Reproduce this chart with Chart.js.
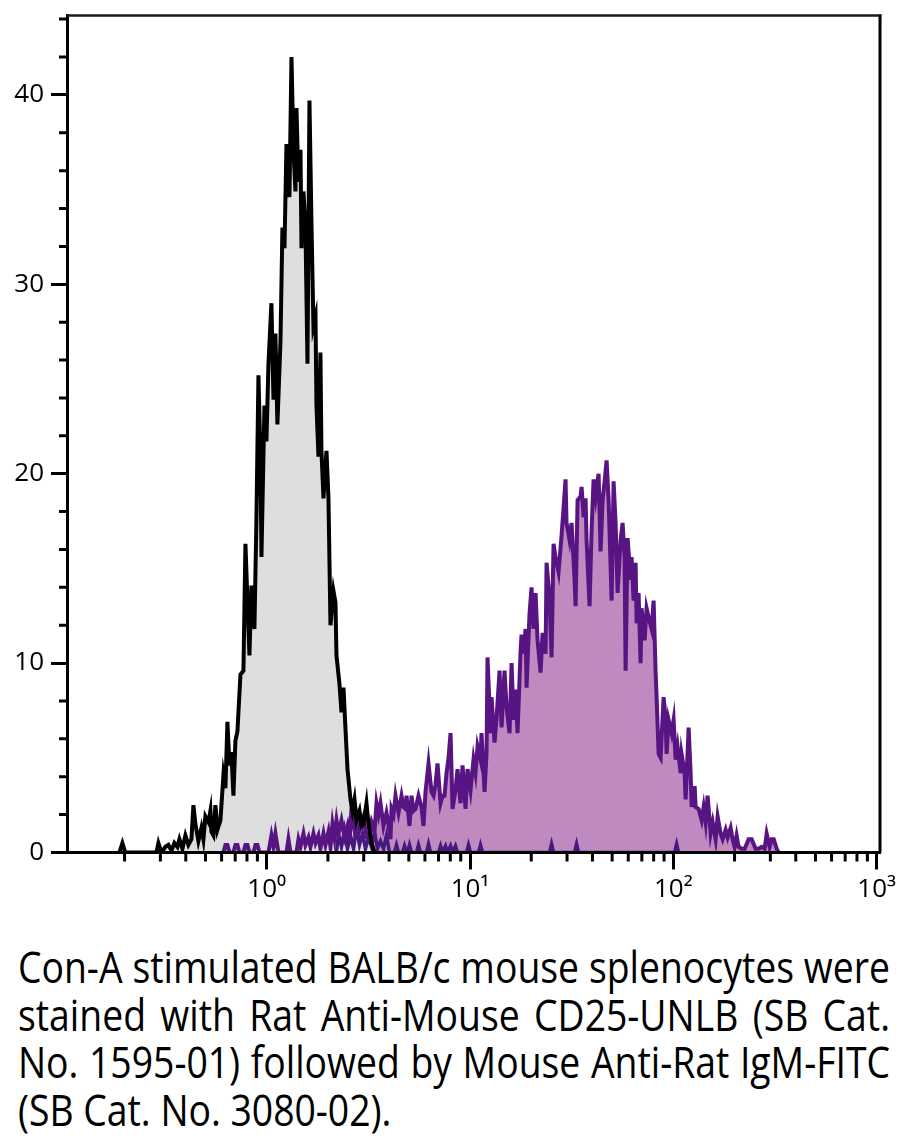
<!DOCTYPE html>
<html><head><meta charset="utf-8">
<script src="https://cdn.jsdelivr.net/npm/chart.js@4.4.0/dist/chart.umd.min.js"></script>
<style>
html,body{margin:0;padding:0;background:#fff;width:912px;height:1141px;overflow:hidden}
#wrap{position:absolute;left:0;top:0;width:912px;height:930px}
#cap{position:absolute;left:18px;top:943px;width:3000px;font-family:"Open Sans","Noto Sans",sans-serif;font-size:44px;line-height:47.5px;color:#000;transform-origin:0 0}
#cap .ln{white-space:nowrap;text-align:left}
#cap.fit .ln{white-space:normal;text-align:justify;text-align-last:justify}
#cap.fit .ln.last{text-align:left;text-align-last:left}
</style></head><body>
<div id="wrap"><canvas id="c" width="912" height="930"></canvas></div>
<div id="cap">
<div class="ln"><span>Con-A stimulated BALB/c mouse splenocytes were</span></div>
<div class="ln"><span>stained with Rat Anti-Mouse CD25-UNLB (SB Cat.</span></div>
<div class="ln"><span>No. 1595-01) followed by Mouse Anti-Rat IgM-FITC</span></div>
<div class="ln last"><span>(SB Cat. No. 3080-02).</span></div>
</div>
<script>
// ---- axis ticks ----
const xMajorTicks = [1, 10, 100, 1000];
const xMajorLabels = ['10\u2070', '10\u00B9', '10\u00B2', '10\u00B3'];
const xMinorTicks = [0.2,0.3,0.4,0.5,0.6,0.7,0.8,0.9, 2,3,4,5,6,7,8,9, 20,30,40,50,60,70,80,90, 200,300,400,500,600,700,800,900];
const yTicks = [0,2,4,6,8,10,12,14,16,18,20,22,24,26,28,30,32,34,36,38,40,42,44];
const yLabeledTicks = [0,10,20,30,40];

// ---- control histogram (black, grey fill) ----
const blackX = [0.1886,0.1951,0.2018,0.2869,0.2934,0.3035,0.3176,0.3285,0.3400,0.3517,0.3638,0.3722,0.3850,0.3983,0.4121,0.4264,0.4361,0.4462,0.4614,0.4775,0.4884,0.4996,0.5169,0.5287,0.5347,0.5470,0.5595,0.5724,0.5922,0.6127,0.6267,0.6411,0.6558,0.6708,0.6861,0.7018,0.7180,0.7428,0.7685,0.7860,0.8040,0.8225,0.8414,0.8703,0.8903,0.9108,0.9316,0.9423,0.9748,0.9972,1.020,1.055,1.080,1.104,1.129,1.169,1.195,1.223,1.251,1.294,1.324,1.354,1.385,1.401,1.433,1.466,1.483,1.516,1.551,1.587,1.623,1.660,1.698,1.738,1.757,1.797,1.838,1.859,1.902,1.968,2.013,2.059,2.130,2.179,2.204,2.280,2.332,2.386,2.441,2.497,2.583,2.642,2.703,2.765,2.860,2.926,2.992,3.096,3.167,3.277,3.390];
const blackY = [0,0.5,0,0,0.5,0,0.3,0.4,0.1,0.5,0.3,0.7,0.2,0.9,0.4,0.7,2.5,1.5,0.6,1.3,0.7,1.9,1.6,2.2,1.1,0.9,2.5,1.2,1.7,4.1,3.4,6.9,4.6,5.3,3.0,5.9,6.4,9.4,9.6,16.3,13.3,10.4,14.1,11.8,17.6,25.2,20.9,15.6,23.6,21.7,25.8,29.0,23.9,27.4,22.6,27.0,33.0,31.9,37.4,34.6,42.0,37.1,34.9,39.3,35.4,37.1,31.9,34.9,33.0,25.8,39.7,33.3,27.8,28.3,23.6,20.9,26.4,21.2,18.7,21.2,18.7,12.0,13.8,13.2,10.4,8.9,7.4,8.7,6.5,4.4,2.8,2.2,2.8,1.7,2.2,1.4,1.5,2.6,1.5,0.5,0];

// ---- stained histogram (purple) ----
const purpleX = [0.6127,0.6267,0.6411,0.6558,0.6861,0.7018,0.7180,0.7344,0.7685,0.7860,0.8040,0.8225,0.8605,0.8802,0.9004,0.9211,1.020,1.055,1.080,1.104,1.142,1.251,1.279,1.309,1.401,1.433,1.466,1.516,1.551,1.605,1.642,1.698,1.738,1.797,1.838,1.902,1.946,2.013,2.059,2.106,2.154,2.204,2.254,2.332,2.413,2.497,2.554,2.612,2.703,2.765,2.828,2.926,2.992,3.096,3.167,3.277,3.390,3.467,3.547,3.628,3.753,3.883,3.972,4.063,4.110,4.204,4.301,4.449,4.603,4.709,4.817,4.872,5.039,5.155,5.272,5.393,5.579,5.772,5.905,6.040,6.250,6.466,6.614,6.766,6.921,7.161,7.325,7.493,7.665,7.841,8.020,8.204,8.484,8.679,8.980,9.186,9.504,9.721,10.06,10.40,10.64,10.89,11.26,11.39,11.79,12.06,12.19,12.62,12.76,13.20,13.51,13.97,14.29,14.78,15.12,15.65,16.01,16.37,16.75,17.13,17.72,17.92,18.33,18.76,18.97,19.62,20.07,20.53,21.01,21.49,22.23,22.74,23.53,23.79,24.61,25.18,25.75,26.34,27.25,28.19,29.50,29.83,30.86,31.58,32.67,33.05,33.80,34.97,35.37,36.18,37.01,37.43,38.72,39.61,40.52,41.46,41.93,42.89,43.87,44.88,45.91,46.96,48.04,49.70,50.82,51.99,53.18,55.02,56.28,57.56,58.23,59.56,61.62,62.32,63.74,65.21,65.96,67.45,69.01,69.79,72.20,73.86,76.41,78.17,79.96,81.80,82.73,84.62,86.57,89.54,91.60,92.64,94.76,98.04,100.3,102.6,104.9,108.6,109.8,113.6,114.9,118.9,121.6,123.0,127.3,128.7,133.1,137.7,140.9,144.1,147.4,152.5,156.1,161.4,165.1,170.8,174.7,180.8,184.9,191.3,195.6,200.1,204.7,209.4,216.7,224.2,234.6,242.7,254.0,262.7,271.8,281.2,287.7,297.6,304.5,311.5,322.2,329.6];
const purpleY = [0,0.4,0.4,0,0,0.4,0.4,0,0,0.4,0.4,0,0,0.4,0.4,0,0,0.9,0.3,1.0,0,0,0.7,0,0,0.7,0.3,1.0,0.4,0.8,0.3,1.0,0.5,0.9,0.2,1.0,0.4,1.1,0.3,1.5,0.8,1.7,1.0,1.7,0.8,1.4,0.6,2.3,1.2,1.8,1.0,1.6,1.9,0.8,0.7,1.6,1.1,2.6,2.0,2.6,1.4,2.1,1.5,0.7,2.3,2.0,3.0,2.1,3.0,2.4,2.3,3.0,1.4,3.0,2.2,2.3,3.0,2.4,1.4,3.2,4.7,3.2,3.0,3.6,4.7,2.6,3.0,3.0,4.2,5.0,6.3,2.3,3.3,4.4,2.6,4.6,2.3,4.4,3.3,4.9,4.2,5.6,4.9,6.3,3.2,5.3,10.3,6.3,8.2,5.8,7.1,9.6,6.6,9.6,7.7,6.3,10.0,7.0,8.6,6.3,10.6,11.5,10.5,11.8,8.7,12.6,14.0,11.8,13.7,11.2,9.5,11.6,10.5,15.3,13.5,10.3,16.3,15.6,14.8,16.7,19.7,17.4,16.5,17.4,14.4,13.0,18.6,18.8,19.3,17.7,18.7,16.5,13.0,17.0,19.7,18.8,19.3,20.0,15.9,18.6,19.6,20.7,18.6,13.3,19.6,17.4,13.7,16.5,17.4,15.6,9.6,16.6,14.4,15.6,13.3,15.3,12.1,13.7,10.0,12.9,11.2,12.9,12.2,11.8,13.3,9.5,8.2,5.2,5.0,8.2,7.1,5.2,7.0,6.3,7.0,4.9,5.6,4.2,5.2,4.2,2.8,6.6,4.2,2.4,3.5,2.4,2.3,1.7,2.4,1.6,3.0,1.0,1.6,0.7,1.9,1.0,0.7,1.2,0.8,1.3,0.7,0.3,0.9,0.3,0.2,0.2,0.7,0.7,0.2,0.2,0.3,0.2,1.0,0.3,0.7,0.7,0.2,0];

// ---- low-count trace (dark purple) ----
const dimX = [2.204,2.254,2.332,2.413,2.497,2.583,2.673,2.765,2.860,2.958,3.061,3.167,3.277,3.390,3.507,3.628,3.753,3.883,4.017,4.251,4.349,4.449,4.655,4.763,4.872,4.927,5.039,5.155,5.455,5.579,5.707,6.109,6.250,6.393,6.998,7.161,7.325,7.579,7.753,8.020,8.204,8.484,8.679,9.612,9.831,10.06,11.01,11.26,11.52,24.61,25.18,25.75,32.67,33.42,34.19,101.4,103.8,106.1];
const dimY = [0,1.0,0.3,1.2,0.2,0.9,0.2,1.3,0.4,1.0,0.2,0.8,0.3,1.1,0.2,0.6,0.2,0.9,0,0,0.4,0,0,0.35,0,0,0.4,0,0,0.4,0,0,0.45,0,0,0.35,0,0.35,0,0.35,0,0.35,0,0,0.4,0,0,0.4,0,0,0.45,0,0,0.45,0,0,0.45,0];

function pts(xs, ys){ return xs.map((v,i)=>({x:v, y:ys[i]})); }

const tickFont = {family:"'Open Sans','Noto Sans','DejaVu Sans',sans-serif", size:26};

const framePlugin = {
  id:'frame',
  afterDraw(chart){
    const ctx = chart.ctx, a = chart.chartArea, xs = chart.scales.x, ys = chart.scales.y;
    ctx.save();
    ctx.strokeStyle = '#000'; ctx.lineWidth = 3; ctx.lineCap = 'butt';
    ctx.beginPath();
    xMinorTicks.forEach(v=>{ const p = xs.getPixelForValue(v); ctx.moveTo(p, a.bottom); ctx.lineTo(p, a.bottom + 9); });
    yTicks.forEach(v=>{ if (yLabeledTicks.includes(v)) return; const p = ys.getPixelForValue(v); ctx.moveTo(a.left - 8, p); ctx.lineTo(a.left, p); });
    ctx.moveTo(a.right, a.top - 1); ctx.lineTo(a.right, a.bottom);
    ctx.stroke();
    ctx.lineWidth = 2.5; ctx.strokeStyle = '#1a1a1a';
    ctx.beginPath(); ctx.moveTo(a.left, a.top); ctx.lineTo(a.right + 1.5, a.top); ctx.stroke();
    ctx.restore();
  }
};

new Chart(document.getElementById('c'), {
  type:'line',
  data:{ datasets:[
    {label:'Control', data:pts(blackX, blackY), borderColor:'#000000', backgroundColor:'#dedede', fill:'origin', borderWidth:4, pointRadius:0, tension:0, order:0},
    {label:'CD25', data:pts(purpleX, purpleY), borderColor:'#581483', backgroundColor:'#c08ac0', fill:'origin', borderWidth:4, pointRadius:0, tension:0, order:1},
    {label:'Low', data:pts(dimX, dimY), borderColor:'#45197f', fill:false, borderWidth:3.5, pointRadius:0, tension:0, order:2}
  ]},
  options:{
    responsive:false, animation:false, devicePixelRatio:1,
    layout:{padding:{left:0, right:32, top:15.5, bottom:0}},
    plugins:{legend:{display:false}, tooltip:{enabled:false}, filler:{drawTime:'beforeDatasetsDraw'}},
    scales:{
      x:{
        type:'logarithmic', position:'bottom', min:0.1042, max:1038.3,
        afterFit(s){ s.height = 77.5; s.paddingLeft = 0; s.paddingRight = 0; },
        afterBuildTicks(s){ s.ticks = xMajorTicks.concat(xMinorTicks).sort((a,b)=>a-b).map(v=>({value:v})); },
        grid:{drawOnChartArea:false, drawTicks:true, tickLength:17, tickWidth:3,
              tickColor:(c)=> (c.tick && xMajorTicks.includes(c.tick.value)) ? '#000' : 'rgba(0,0,0,0)'},
        border:{display:true, color:'#000', width:3, z:1},
        ticks:{autoSkip:false, maxRotation:0, minRotation:0, padding:4, color:'#000', font:tickFont,
               callback:(v)=>{ const i = xMajorTicks.indexOf(v); return i >= 0 ? xMajorLabels[i] : ''; }}
      },
      y:{
        type:'linear', min:0, max:44.19,
        afterFit(s){ s.width = 67; s.paddingTop = 0; s.paddingBottom = 0; },
        afterBuildTicks(s){ s.ticks = yTicks.map(v=>({value:v})); },
        grid:{drawOnChartArea:false, drawTicks:true, tickLength:16, tickWidth:3,
              tickColor:(c)=> (c.tick && yLabeledTicks.includes(c.tick.value)) ? '#000' : 'rgba(0,0,0,0)'},
        border:{display:true, color:'#000', width:3, z:1},
        ticks:{autoSkip:false, padding:7, color:'#000', font:tickFont,
               callback:(v)=> yLabeledTicks.includes(v) ? String(v) : ''}
      }
    }
  },
  plugins:[framePlugin]
});

// caption: condense horizontally and justify to the reference text block width
(function(){
  const cap = document.getElementById('cap');
  const spans = cap.querySelectorAll('.ln span');
  let maxw = 0;
  spans.forEach((s,i)=>{ const w = s.getBoundingClientRect().width; if (i === 0 || i === 2) maxw = Math.max(maxw, w); });
  const target = 872;
  const k = Math.min(1, (target - 1) / maxw);
  cap.style.width = (target / k) + 'px';
  cap.style.transform = 'scaleX(' + k + ')';
  cap.classList.add('fit');
})();
</script>
</body></html>
